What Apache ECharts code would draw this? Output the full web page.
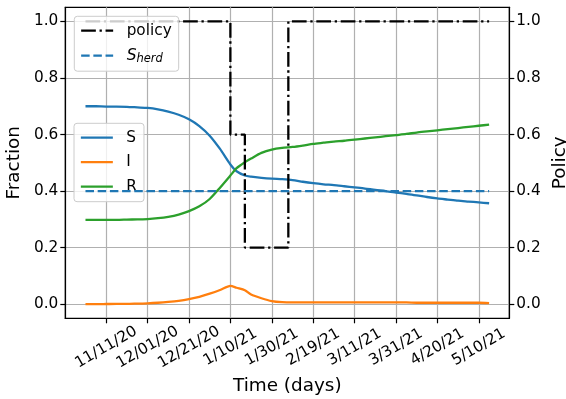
<!DOCTYPE html>
<html><head><meta charset="utf-8">
<script src="https://cdn.jsdelivr.net/npm/echarts@6/dist/echarts.min.js"></script>
<style>html,body{margin:0;padding:0;background:#fff}#c{width:566px;height:399px}</style>
</head><body><div id="c"></div>
<script>
// Days counted from 11/11/20
const days = [-10, -5, 0, 5, 10, 15, 20, 25, 30, 35, 40, 45, 50, 55, 60, 63, 67, 70, 75, 80, 85, 90, 95, 100, 105, 110, 115, 120, 125, 130, 135, 140, 145, 150, 155, 160, 165, 170, 175, 180, 185];
const S = [0.700, 0.700, 0.699, 0.699, 0.698, 0.696, 0.694, 0.689, 0.681, 0.670, 0.654, 0.630, 0.596, 0.549, 0.494, 0.470, 0.455, 0.451, 0.447, 0.444, 0.442, 0.439, 0.433, 0.428, 0.424, 0.421, 0.417, 0.413, 0.409, 0.404, 0.400, 0.395, 0.390, 0.385, 0.379, 0.374, 0.370, 0.366, 0.363, 0.360, 0.357];
const I = [0.000, 0.000, 0.0005, 0.001, 0.001, 0.002, 0.003, 0.005, 0.008, 0.012, 0.018, 0.026, 0.037, 0.050, 0.065, 0.058, 0.049, 0.034, 0.021, 0.011, 0.007, 0.006, 0.006, 0.006, 0.006, 0.006, 0.006, 0.006, 0.006, 0.006, 0.006, 0.006, 0.006, 0.005, 0.005, 0.005, 0.005, 0.005, 0.005, 0.005, 0.004];
const R = [0.298, 0.298, 0.298, 0.298, 0.299, 0.300, 0.301, 0.304, 0.309, 0.317, 0.329, 0.346, 0.372, 0.412, 0.455, 0.481, 0.502, 0.515, 0.535, 0.547, 0.553, 0.556, 0.561, 0.567, 0.571, 0.575, 0.578, 0.582, 0.586, 0.590, 0.594, 0.598, 0.602, 0.607, 0.611, 0.615, 0.619, 0.623, 0.627, 0.631, 0.635];
const policyDays = [-10, 60, 67, 88, 185];
const policyLevels = [1.0, 0.6, 0.2, 1.0, 1.0];
const herdDays = [-10, 185];
const herdLevels = [0.4, 0.4];
const tickDays = [0, 20, 40, 60, 80, 100, 120, 140, 160, 180];
const tickLabels = ['11/11/20', '12/01/20', '12/21/20', '1/10/21', '1/30/21', '2/19/21', '3/11/21', '3/31/21', '4/20/21', '5/10/21'];
const yTicks = [0, 0.2, 0.4, 0.6, 0.8, 1.0];

const FF = 'DejaVu Sans';
const pairs = (xs, ys) => xs.map((x, i) => [x, ys[i]]);
const LW = 2.3;

const chart = echarts.init(document.getElementById('c'), null, {renderer: 'canvas'});
const tickFont = {fontFamily: FF, fontSize: 15.3, color: '#000'};
const legendText = {
  fontFamily: FF, fontSize: 15.3, color: '#000', lineHeight: 17,
  rich: {
    g: {width: 8.5, fontFamily: FF, fontSize: 15.3, lineHeight: 17},
    s: {fontFamily: FF, fontStyle: 'italic', fontSize: 15.5, lineHeight: 17, color: '#000'},
    sub: {fontFamily: FF, fontStyle: 'italic', fontSize: 11.5, lineHeight: 17, padding: [6, 0, 0, 0], color: '#000'}
  }
};
const legendBase = {
  orient: 'vertical', itemWidth: 32, itemHeight: 14, itemGap: 7.5,
  padding: [5.9, 7, 6.5, 5.7],
  backgroundColor: 'rgba(255,255,255,0.8)', borderColor: '#cccccc', borderWidth: 1, borderRadius: 3,
  selectedMode: false, textStyle: legendText, lineStyle: {width: LW},
  itemStyle: {color: 'transparent', borderWidth: 0, opacity: 0},
  formatter: n => n === 'Sherd' ? '{g| }{s|S}{sub|herd}' : '{g| }' + n
};

const yAxisBase = {
  type: 'value', min: -0.05, max: 1.05,
  axisLine: {show: true, onZero: false, lineStyle: {color: '#000', width: 1.2}},
  axisTick: {show: true, length: 5, lineStyle: {color: '#000', width: 1.2}, customValues: yTicks},
  axisLabel: Object.assign({margin: 7, customValues: yTicks, formatter: v => v.toFixed(1)}, tickFont),
  nameLocation: 'middle', nameRotate: 90,
  nameTextStyle: {fontFamily: FF, fontSize: 18.4, color: '#000'}
};
const lineBase = {type: 'line', symbol: 'none', showSymbol: false, silent: true};

chart.setOption({
  animation: false,
  backgroundColor: '#fff',
  grid: {left: 65.3, right: 56.7, top: 7.3, bottom: 80.7, show: true, borderColor: '#000', borderWidth: 1.2, backgroundColor: 'transparent', outerBoundsMode: 'none', containLabel: false},
  xAxis: {
    type: 'value', min: -19.75, max: 194.75,
    axisLine: {show: true, onZero: false, lineStyle: {color: '#000', width: 1.2}},
    axisTick: {show: true, length: 5, lineStyle: {color: '#000', width: 1.2}, customValues: tickDays},
    axisLabel: Object.assign({customValues: tickDays, rotate: 30, align: 'center', verticalAlign: 'middle', margin: 29,
      formatter: v => { const k = tickDays.indexOf(v); return k >= 0 ? tickLabels[k] : ''; }}, tickFont),
    splitLine: {show: true, lineStyle: {color: '#b0b0b0', width: 1.2}},
    name: 'Time (days)', nameLocation: 'middle', nameGap: 48,
    nameTextStyle: {fontFamily: FF, fontSize: 18.4, color: '#000'}
  },
  yAxis: [
    Object.assign({}, yAxisBase, {position: 'left', name: 'Fraction', nameGap: 38,
      splitLine: {show: true, lineStyle: {color: '#b0b0b0', width: 1.2}}}),
    Object.assign({}, yAxisBase, {position: 'right', name: 'Policy', nameGap: 37,
      splitLine: {show: false}})
  ],
  legend: [
    Object.assign({}, legendBase, {left: 74.3, top: 16.3, data: ['policy', 'Sherd'], z: 8}),
    Object.assign({}, legendBase, {left: 74, top: 123.3, data: ['S', 'I', 'R'], z: 3})
  ],
  series: [
    Object.assign({}, lineBase, {name: 'S', data: pairs(days, S), z: 2, smooth: 0.25,
      lineStyle: {color: '#1f77b4', width: LW}, itemStyle: {color: '#1f77b4'}}),
    Object.assign({}, lineBase, {name: 'I', data: pairs(days, I), z: 2, smooth: 0.25,
      lineStyle: {color: '#ff7f0e', width: LW}, itemStyle: {color: '#ff7f0e'}}),
    Object.assign({}, lineBase, {name: 'R', data: pairs(days, R), z: 2, smooth: 0.25,
      lineStyle: {color: '#2ca02c', width: LW}, itemStyle: {color: '#2ca02c'}}),
    Object.assign({}, lineBase, {name: 'policy', yAxisIndex: 1, step: 'end', data: pairs(policyDays, policyLevels), z: 5,
      lineStyle: {color: '#000', width: LW, type: [14.7, 3.7, 2.3, 3.7]}, itemStyle: {color: '#000'}}),
    Object.assign({}, lineBase, {name: 'Sherd', yAxisIndex: 1, data: pairs(herdDays, herdLevels), z: 5,
      lineStyle: {color: '#1f77b4', width: LW, type: [8.5, 3.7]}, itemStyle: {color: '#1f77b4'}})
  ]
});
</script></body></html>
